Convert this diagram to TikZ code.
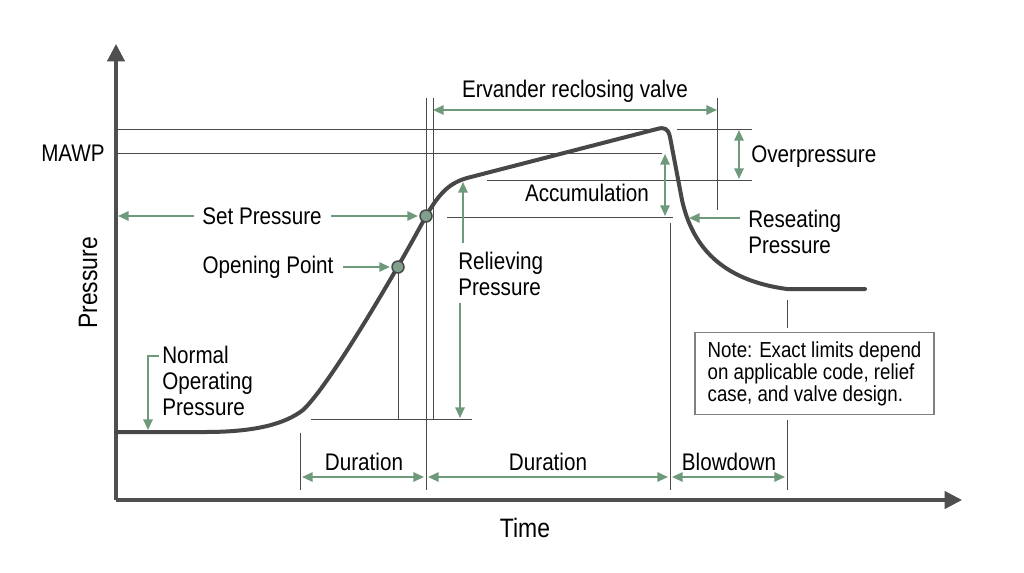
\documentclass[tikz,border=0pt]{standalone}
\usepackage{fontspec}
\setmainfont[FakeStretch=0.86]{Liberation Sans}
\usetikzlibrary{arrows.meta}
\definecolor{axisc}{HTML}{4F4F4F}
\definecolor{curvec}{HTML}{474747}
\definecolor{linec}{HTML}{4A4A4A}
\definecolor{grn}{HTML}{6E9A7B}
\definecolor{dotc}{HTML}{7FA08A}
\definecolor{boxc}{HTML}{808080}
\begin{document}
\begin{tikzpicture}[x=0.75pt,y=-0.75pt,
  lbl/.style={font=\fontsize{18}{19.5}\selectfont, text=black, inner sep=0pt, align=left},
  axlbl/.style={font=\fontsize{20}{22}\selectfont, text=black, inner sep=0pt},
  notebox/.style={draw=boxc, line width=0.9pt, fill=white, font=\fontsize{16.3}{16.5}\selectfont, align=left, inner xsep=9.5pt, inner ysep=6pt, minimum width=176pt, minimum height=62pt},
  axisline/.style={draw=axisc, line width=2.3pt, -{Triangle[length=13pt,width=13pt]}},
  guide/.style={draw=linec, line width=0.7pt},
  ga/.style={draw=grn, line width=1.4pt, -{Triangle[length=8pt,width=7pt]}},
  gaa/.style={draw=grn, line width=1.4pt, {Triangle[length=8pt,width=7pt]}-{Triangle[length=8pt,width=7pt]}},
  curveline/.style={draw=curvec, line width=3pt, line join=round, line cap=round},
  dot/.style={circle, fill=dotc, draw=curvec, line width=1.1pt, minimum size=9pt, inner sep=0pt}]
\useasboundingbox (0,0) rectangle (1024,572);
\fill[white] (0,0) rectangle (1024,572);

% axes
\coordinate (O) at (116,500);
\coordinate (ytop) at (116,44);
\coordinate (xend) at (962,500);
\draw[axisline] (O) -- (ytop);
\draw[axisline] (O) -- (xend);
\node[axlbl, rotate=90] (plbl) at (88,283) {Pressure};
\node[axlbl] (tlbl) at (525,528) {Time};

% guide lines
\coordinate (g1a) at (116,129); \coordinate (g1b) at (663,129);
\coordinate (g1c) at (677,129); \coordinate (g1d) at (752,129);
\draw[guide] (g1a) -- (g1b); \draw[guide] (g1c) -- (g1d);
\coordinate (g2a) at (116,153); \coordinate (g2b) at (662,153);
\draw[guide] (g2a) -- (g2b);
\coordinate (g3a) at (487,180); \coordinate (g3b) at (752,180);
\draw[guide] (g3a) -- (g3b);
\coordinate (g4a) at (447,217); \coordinate (g4b) at (673,217);
\draw[guide] (g4a) -- (g4b);
\coordinate (g5a) at (311,419); \coordinate (g5b) at (472,419);
\draw[guide] (g5a) -- (g5b);
\coordinate (v1a) at (426,98); \coordinate (v1b) at (426,490);
\draw[guide] (v1a) -- (v1b);
\coordinate (v2a) at (433,98); \coordinate (v2b) at (433,419);
\draw[guide] (v2a) -- (v2b);
\coordinate (v3a) at (398,273); \coordinate (v3b) at (398,419);
\draw[guide] (v3a) -- (v3b);
\coordinate (v4a) at (670,223); \coordinate (v4b) at (670,490);
\draw[guide] (v4a) -- (v4b);
\coordinate (v5a) at (717,98); \coordinate (v5b) at (717,210);
\draw[guide] (v5a) -- (v5b);
\coordinate (v6a) at (300,433); \coordinate (v6b) at (300,490);
\draw[guide] (v6a) -- (v6b);
\coordinate (v7a) at (787,300); \coordinate (v7b) at (787,328);
\draw[guide] (v7a) -- (v7b);
\coordinate (v8a) at (787,420); \coordinate (v8b) at (787,490);
\draw[guide] (v8a) -- (v8b);

% curve
\draw[curveline] (116,432) -- (205,432) .. controls (255,432) and (285,424) .. (303,410)
  .. controls (330,385) and (400,265) .. (426,216)
  .. controls (440,192) and (450,183) .. (467,178) -- (657,129)
  .. controls (664,127) and (668,128) .. (670,137) -- (682,200)
  .. controls (692,245) and (720,280) .. (787,289) -- (865,289);

\node[dot] (setpt) at (426,216) {};
\node[dot] (openpt) at (398,267) {};

% labels
\node[lbl] (mawp) at (73,153) {MAWP};
\node[lbl] (setlbl) at (262,216) {Set Pressure};
\node[lbl] (openlbl) at (268,267) {Opening Point};
\node[lbl] (ervlbl) at (575,91) {Ervander reclosing valve};
\node[lbl, anchor=west] (overlbl) at (751,157) {Overpressure};
\node[lbl] (acclbl) at (587,193) {Accumulation};
\node[lbl, anchor=west] (reslbl) at (748,232) {Reseating\\Pressure};
\node[lbl, anchor=west] (rellbl) at (458,274) {Relieving\\Pressure};
\node[lbl, anchor=west] (normlbl) at (162,381) {Normal\\Operating\\Pressure};
\node[lbl] (dur1) at (364,462) {Duration};
\node[lbl] (dur2) at (548,462) {Duration};
\node[lbl] (blow) at (729,462) {Blowdown};
\node[notebox] (note) at (814.5,373.5) {Note: Exact limits depend\\on applicable code, relief\\case, and valve design.};

% green arrows
\draw[ga, shorten <=6pt, shorten >=1.5pt] (setlbl.west) -- (setlbl.west -| O);
\draw[ga, shorten <=7pt, shorten >=1pt] (setlbl.east) -- (setpt);
\draw[ga, shorten <=7pt, shorten >=1pt] (openlbl.east) -- (openpt);
\coordinate (e1) at (433,110); \coordinate (e2) at (717,110);
\draw[gaa] (e1) -- (e2);
\coordinate (op1) at (739,130); \coordinate (op2) at (739,179);
\draw[gaa] (op1) -- (op2);
\coordinate (ac1) at (665,154); \coordinate (ac2) at (665,216);
\draw[gaa] (ac1) -- (ac2);
\coordinate (rs1) at (740,218); \coordinate (rs2) at (689,218);
\draw[ga] (rs1) -- (rs2);
\coordinate (rl1) at (463,243); \coordinate (rl2) at (463,182);
\draw[ga] (rl1) -- (rl2);
\coordinate (rl3) at (460,303); \coordinate (rl4) at (460,418);
\draw[ga] (rl3) -- (rl4);
\coordinate (np1) at (159,356); \coordinate (np2) at (148,430);
\draw[ga] (np1) -| (np2);
\coordinate (d1a) at (302,477); \coordinate (d1b) at (424,477);
\draw[gaa] (d1a) -- (d1b);
\coordinate (d2a) at (428,477); \coordinate (d2b) at (668,477);
\draw[gaa] (d2a) -- (d2b);
\coordinate (d3a) at (672,477); \coordinate (d3b) at (785,477);
\draw[gaa] (d3a) -- (d3b);
\end{tikzpicture}
\end{document}
